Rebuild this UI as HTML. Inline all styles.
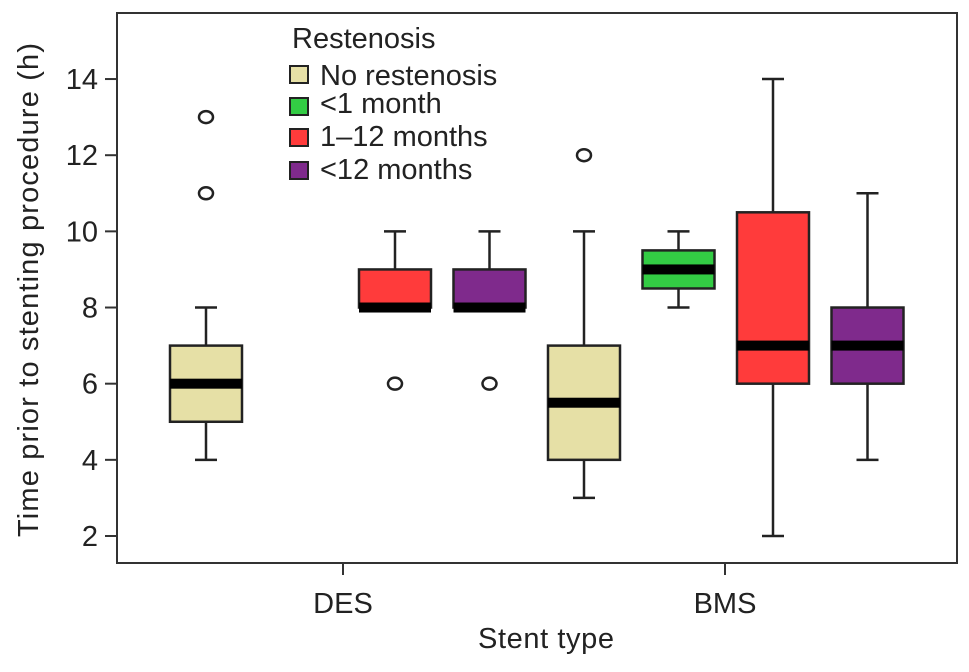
<!DOCTYPE html>
<html><head><meta charset="utf-8"><style>
body{margin:0;background:#fff}
svg text{font-family:"Liberation Sans",Arial,sans-serif;fill:#222}
</style></head><body>
<svg id="chart" width="969" height="667" xmlns="http://www.w3.org/2000/svg">
<rect x="117" y="13" width="840" height="550" fill="none" stroke="#333" stroke-width="2"/>
<g id="yaxis"></g>
<g id="boxes"></g>
<line x1="343" y1="563" x2="343" y2="575" stroke="#333" stroke-width="2"/>
<line x1="725" y1="563" x2="725" y2="575" stroke="#333" stroke-width="2"/>
<text x="343" y="613" font-size="29" text-anchor="middle">DES</text>
<text x="725" y="613" font-size="29" text-anchor="middle">BMS</text>
<text x="546" y="648" font-size="29" text-anchor="middle" textLength="136">Stent type</text>
<text transform="translate(38,290) rotate(-90)" font-size="29" text-anchor="middle" textLength="494">Time prior to stenting procedure (h)</text>
<g>
<text x="292" y="48" font-size="29">Restenosis</text>
<rect x="290" y="66" width="18" height="17" fill="#e6e0a6" stroke="#222" stroke-width="2"/>
<text x="320" y="85" font-size="29">No restenosis</text>
<rect x="290" y="98" width="18" height="17" fill="#33cc44" stroke="#222" stroke-width="2"/>
<text x="320" y="113" font-size="29">&lt;1 month</text>
<rect x="290" y="129" width="18" height="17" fill="#ff3b3b" stroke="#222" stroke-width="2"/>
<text x="320" y="146" font-size="29">1–12 months</text>
<rect x="290" y="162" width="18" height="17" fill="#7f2a8c" stroke="#222" stroke-width="2"/>
<text x="320" y="179" font-size="29">&lt;12 months</text>
</g>
</svg>
<script>
const yTicks=[2,4,6,8,10,12,14];
const groups=["DES-No","DES-<1","DES-1-12","DES->12","BMS-No","BMS-<1","BMS-1-12","BMS->12"];
const colors=["#e6e0a6","#33cc44","#ff3b3b","#7f2a8c","#e6e0a6","#33cc44","#ff3b3b","#7f2a8c"];
const mins=[4,null,8,8,3,8,2,4];
const q1s=[5,null,8,8,4,8.5,6,6];
const medians=[6,null,8,8,5.5,9,7,7];
const q3s=[7,null,9,9,7,9.5,10.5,8];
const maxs=[8,null,10,10,10,10,14,11];
const outliers=[[11,13],[],[6],[6],[12],[],[],[]];
const NS="http://www.w3.org/2000/svg";
function y(v){return 536-(v-2)*38.08;}
function x(i){return 206+94.5*i;}
function mk(tag,attrs,parent){const e=document.createElementNS(NS,tag);for(const k in attrs)e.setAttribute(k,attrs[k]);parent.appendChild(e);return e;}
const ya=document.getElementById('yaxis');
yTicks.forEach(t=>{
  const l=mk('line',{x1:105,x2:117,y1:y(t),y2:y(t),stroke:'#333','stroke-width':2},ya);
  
  
  const tx=mk('text',{x:98,y:y(t)+10,'font-size':29,'text-anchor':'end'},ya);
  tx.textContent=t;
  
  
});
const bx=document.getElementById('boxes');
groups.forEach((g,i)=>{
  if(medians[i]===null)return;
  const cx=x(i),hw=36,cw=11;
  const grp=mk('g',{},bx);
  
  
  const s={stroke:'#222','stroke-width':2.5};
  if(maxs[i]>q3s[i]){mk('line',Object.assign({x1:cx,x2:cx,y1:y(q3s[i]),y2:y(maxs[i])},s),grp);mk('line',Object.assign({x1:cx-cw,x2:cx+cw,y1:y(maxs[i]),y2:y(maxs[i])},s),grp);}
  if(mins[i]<q1s[i]){mk('line',Object.assign({x1:cx,x2:cx,y1:y(q1s[i]),y2:y(mins[i])},s),grp);mk('line',Object.assign({x1:cx-cw,x2:cx+cw,y1:y(mins[i]),y2:y(mins[i])},s),grp);}
  mk('rect',Object.assign({x:cx-hw,y:y(q3s[i]),width:2*hw,height:Math.max(y(q1s[i])-y(q3s[i]),0.1),fill:colors[i]},s),grp);
  mk('rect',{x:cx-hw,y:y(medians[i])-5,width:2*hw,height:10,fill:'#000'},grp);
  outliers[i].forEach(o=>{
    const c=mk('ellipse',{cx:cx,cy:y(o),rx:7,ry:6,fill:'none',stroke:'#222','stroke-width':2.5},grp);
    
    
  });
});
</script>
</body></html>
